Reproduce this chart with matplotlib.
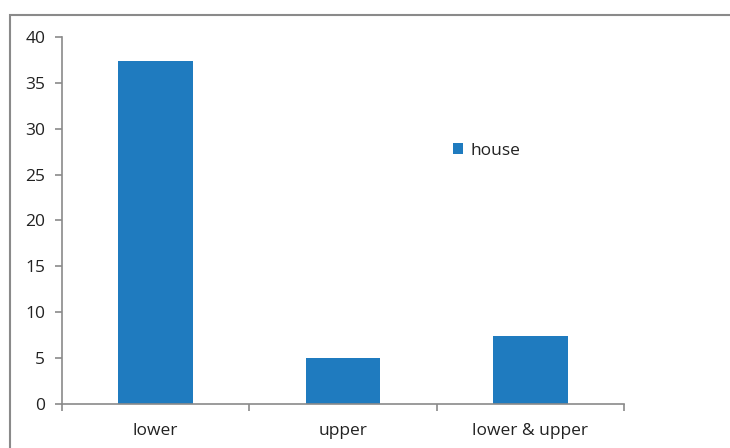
import matplotlib
matplotlib.use("Agg")
import matplotlib.pyplot as plt
from matplotlib.patches import Rectangle

categories = ["lower", "upper", "lower & upper"]
house = [37.4, 5.0, 7.4]
yticks = [0, 5, 10, 15, 20, 25, 30, 35, 40]

plt.rcParams['font.family'] = ['Open Sans', 'DejaVu Sans']

fig = plt.figure(figsize=(7.3, 4.48), dpi=100)
fig.patches.append(Rectangle((10/730, -0.1), 1.2, (448-15)/448 + 0.1, transform=fig.transFigure,
                             fill=False, edgecolor="#8a8a8a", linewidth=1.5))
ax = fig.add_axes([62/730, 1-404/448, (624-62)/730, (404-37)/448])

x = list(range(len(categories)))
ax.bar(x, house, width=0.4, color="#1f7bbf", label="house", zorder=2)
ax.set_xlim(-0.5, len(categories) - 0.5)
ax.set_ylim(0, 40)
ax.set_yticks(yticks)
ax.set_yticklabels([str(v) for v in yticks])
ax.set_xticks(x)
ax.set_xticklabels(categories)
ax.set_xticks([-0.5, 0.5, 1.5, 2.5], minor=True)
ax.tick_params(axis='x', which='major', length=0, pad=14, labelsize=12.5, labelcolor="#222222")
ax.tick_params(axis='x', which='minor', length=5, width=1.2, color="#8a8a8a", direction='out')
ax.tick_params(axis='y', length=5, width=1.2, color="#8a8a8a", pad=7, labelsize=12.5, labelcolor="#222222")
for s in ["top", "right"]:
    ax.spines[s].set_visible(False)
for s in ["left", "bottom"]:
    ax.spines[s].set_color("#8a8a8a")
    ax.spines[s].set_linewidth(1.2)

leg = ax.legend(loc="center left", bbox_to_anchor=((444-62)/(624-62), (404-151)/(404-37)),
                frameon=False, fontsize=12.5, handlelength=0.6, handleheight=0.6,
                handletextpad=0.4, borderpad=0)
for t in leg.get_texts():
    t.set_color("#222222")

fig.savefig("out.png", dpi=100)
